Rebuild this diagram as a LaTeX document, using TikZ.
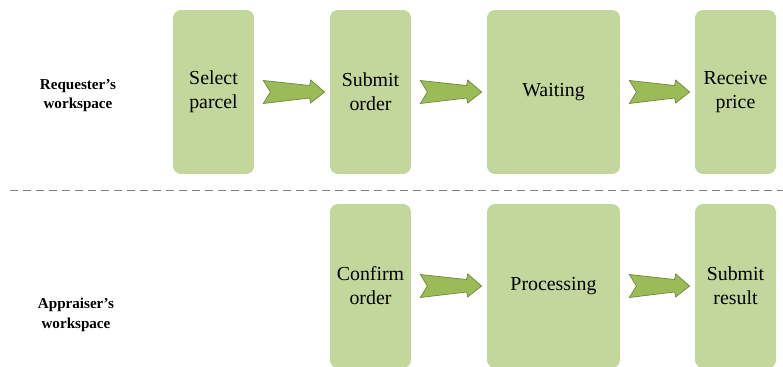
\documentclass[tikz,border=0pt]{standalone}
\usepackage{fontspec}
\setmainfont{LiberationSerif}[Extension=.ttf, UprightFont=*-Regular, BoldFont=*-Bold]
\usepackage{tikz}
\usetikzlibrary{positioning,calc}
\definecolor{boxgreen}{HTML}{C3D69B}
\definecolor{arrowgreen}{HTML}{9BBB59}
\definecolor{arrowedge}{HTML}{6E8A3A}
\tikzset{>=latex}

\begin{document}
\begin{tikzpicture}[x=0.02cm, y=-0.02cm, text centered]
    \tikzset{%
      task/.style={fill=boxgreen, rounded corners=8*0.02cm, minimum width=1.62cm,
        minimum height=3.28cm, align=center, font=\fontsize{11.3}{13.6}\selectfont},
      widetask/.style={task, minimum width=2.66cm},
      lane/.style={align=center, font=\bfseries\fontsize{8.6}{11}\selectfont},
      fatarrow/.style={fill=arrowgreen, draw=arrowedge, line width=0.4pt, to path={
        ($(\tikztostart)+(9,-11.5)$) -- ($(\tikztotarget)+(-20,-6.5)$)
        -- ($(\tikztotarget)+(-19,-12)$) -- ($(\tikztotarget)+(-5,0)$)
        -- ($(\tikztotarget)+(-19,11)$) -- ($(\tikztotarget)+(-20,6)$)
        -- ($(\tikztostart)+(9,11.5)$) -- ($(\tikztostart)+(16,0)$) -- cycle}}
      }
     \clip (0,0) rectangle (783,367);

     \node [lane] (Lreq) at (78, 95.5) {Requester's\\workspace};
     \node [lane] (Lapp) at (76, 315) {Appraiser's\\workspace};

     \node [task] (Rsel) at (213.5, 92) {Select\\parcel};
     \node [task] (Rsub) at (370.5, 92) {Submit\\order};
     \node [widetask] (Rwait) at (553.5, 92) {Waiting};
     \node [task] (Rrec) at (735.5, 92) {Receive\\price};

     \draw [fatarrow] (Rsel.east) to (Rsub.west);
     \draw [fatarrow] (Rsub.east) to (Rwait.west);
     \draw [fatarrow] (Rwait.east) to (Rrec.west);

     \coordinate (Dleft) at (10, 190);
     \coordinate (Dright) at (783, 190);
     \draw [gray, dashed, dash pattern=on 8*0.02cm off 5*0.02cm] (Dleft) -- (Dright);

     \node [task] (Acon) at (370.5, 286) {Confirm\\order};
     \node [widetask] (Aproc) at (553.5, 286) {Processing};
     \node [task] (Ares) at (735.5, 286) {Submit\\result};

     \draw [fatarrow] (Acon.east) to (Aproc.west);
     \draw [fatarrow] (Aproc.east) to (Ares.west);

  \end{tikzpicture}
\end{document}
